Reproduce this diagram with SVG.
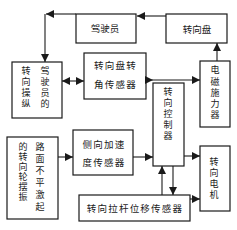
<svg xmlns="http://www.w3.org/2000/svg" width="237" height="230" viewBox="0 0 237 230">
<style>
.box{fill:none;stroke:#1a1a1a;stroke-width:1.2}
.ln{fill:none;stroke:#1a1a1a;stroke-width:1.1}
text{font-family:"Noto Sans CJK SC","Noto Sans",sans-serif;font-size:9.5px;fill:#1a1a1a;text-anchor:middle}
.w{letter-spacing:1.2px}
.v{writing-mode:vertical-rl;text-anchor:start;font-size:9px}
</style>
<defs>
<marker id="ah" markerUnits="userSpaceOnUse" markerWidth="8" markerHeight="8" refX="8" refY="4" orient="auto-start-reverse">
<path d="M0,0 L8,4 L0,8 z" fill="#1a1a1a"/>
</marker>
</defs>
<rect width="237" height="230" fill="#ffffff"/>
<g id="connectors">
<path class="ln" d="M166,16 H137" marker-end="url(#ah)"/>
<path class="ln" d="M76,14 H46" marker-end="url(#ah)"/>
<path class="ln" d="M45,14 V62" marker-end="url(#ah)"/>
<path class="ln" d="M62,81 H84" marker-start="url(#ah)" marker-end="url(#ah)"/>
<path class="ln" d="M145,80 H153" marker-end="url(#ah)"/>
<path class="ln" d="M153,80 H200" marker-end="url(#ah)"/>
<path class="ln" d="M217,61 V43" marker-end="url(#ah)"/>
<path class="ln" d="M58,157 H73" marker-end="url(#ah)"/>
<path class="ln" d="M133,157 H153" marker-end="url(#ah)"/>
<path class="ln" d="M184,156 H200" marker-end="url(#ah)"/>
<path class="ln" d="M162,195 V166" marker-end="url(#ah)"/>
<path class="ln" d="M173,166 V195" marker-end="url(#ah)"/>
<path class="ln" d="M190,199 H200" marker-end="url(#ah)"/>
</g>
<g id="driver">
<rect class="box" x="76" y="14" width="60" height="29"/>
<text x="105" y="32">驾驶员</text>
</g>
<g id="wheel">
<rect class="box" x="166" y="14" width="61" height="29"/>
<text x="197" y="33">转向盘</text>
</g>
<g id="driver-steer">
<rect class="box" x="12" y="62" width="50" height="56"/>
<text class="v" x="26" y="66.5" style="letter-spacing:2px">转向操纵</text>
<text class="v" x="45" y="66.5" style="letter-spacing:2px">驾驶员的</text>
</g>
<g id="angle-sensor">
<rect class="box" x="84" y="53" width="62" height="46"/>
<text class="w" x="115.5" y="69">转向盘转</text>
<text class="w" x="115.5" y="88">角传感器</text>
</g>
<g id="actuator">
<rect class="box" x="200" y="61" width="30" height="66"/>
<text class="v" x="215" y="65.5" style="letter-spacing:2.2px">电磁施力器</text>
</g>
<g id="controller">
<rect class="box" x="153" y="83" width="31" height="83"/>
<text class="v" x="168" y="87.5" style="letter-spacing:2px">转向控制器</text>
</g>
<g id="road">
<rect class="box" x="7" y="137" width="51" height="82"/>
<text class="v" x="40" y="142.5" style="letter-spacing:3px">路面不平激起</text>
<text class="v" x="23" y="142.5" style="letter-spacing:1px">的转向轮摆振</text>
</g>
<g id="lateral">
<rect class="box" x="73" y="130" width="60" height="45"/>
<text class="w" x="104" y="148">侧向加速</text>
<text class="w" x="104" y="166">度传感器</text>
</g>
<g id="motor">
<rect class="box" x="200" y="146" width="30" height="65"/>
<text class="v" x="214" y="157.5" style="letter-spacing:2px">转向电机</text>
</g>
<g id="rod-sensor">
<rect class="box" x="79" y="195" width="111" height="26"/>
<text class="w" x="135" y="211.5">转向拉杆位移传感器</text>
</g>
</svg>
